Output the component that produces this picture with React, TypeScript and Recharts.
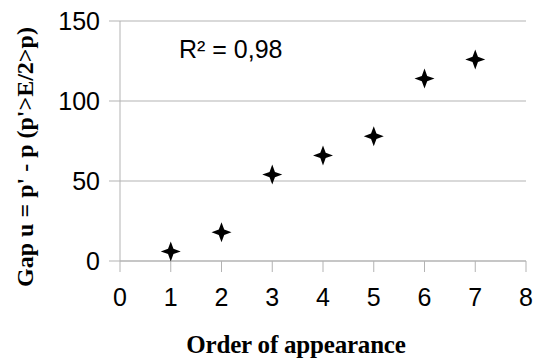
import { ScatterChart, Scatter, XAxis, YAxis, CartesianGrid } from "recharts";

const orders = [1, 2, 3, 4, 5, 6, 7];
const gaps = [6, 18, 54, 66, 78, 114, 126];
const xTicks = [0, 1, 2, 3, 4, 5, 6, 7, 8];
const yTicks = [0, 50, 100, 150];
const rSquared = "R² = 0,98";
const xTitle = "Order of appearance";
const yTitle = "Gap u = p' - p (p'>E/2>p)";

const data = orders.map((o, i) => ({ order: o, gap: gaps[i] }));

const sans = "'Liberation Sans', Arial, sans-serif";
const serif = "'Liberation Serif', 'Times New Roman', serif";
const grey = "#b3b3b3";

// four-pointed star marker
function Star(props: any) {
  const { cx, cy } = props;
  const r = 10;
  const k = 2.7;
  const d = `M${cx},${cy - r} L${cx + k},${cy - k} L${cx + r},${cy} L${cx + k},${cy + k} L${cx},${cy + r} L${cx - k},${cy + k} L${cx - r},${cy} L${cx - k},${cy - k} Z`;
  return <path d={d} fill="#000" />;
}

export default function App() {
  return (
    <div style={{ position: "absolute", left: 0, top: 0, width: 540, height: 360, background: "#fff" }}>
      <ScatterChart width={540} height={360} margin={{ top: 21, right: 14, bottom: 0, left: 0 }}>
        <CartesianGrid vertical={false} stroke={grey} />
        <XAxis
          type="number"
          dataKey="order"
          domain={[0, 8]}
          ticks={xTicks}
          height={99}
          stroke={grey}
          tickSize={11}
          tickMargin={16}
          tick={{ fill: "#000", fontSize: 25, fontFamily: sans }}
        />
        <YAxis
          type="number"
          dataKey="gap"
          domain={[0, 150]}
          ticks={yTicks}
          width={120}
          stroke={grey}
          tickSize={11}
          tickMargin={9}
          tick={{ fill: "#000", fontSize: 25, fontFamily: sans }}
        />
        <Scatter data={data} shape={Star} isAnimationActive={false} />
        <text x={179} y={58} fontSize={25} fontFamily={sans} fill="#000">
          {rSquared}
        </text>
        <text x={296} y={353} textAnchor="middle" fontSize={25} fontWeight="bold" fontFamily={serif} fill="#000" letterSpacing={-0.2}>
          {xTitle}
        </text>
        <text
          x={33}
          y={157}
          textAnchor="middle"
          transform="rotate(-90 33 157)"
          fontSize={24}
          fontWeight="bold"
          fontFamily={serif}
          fill="#000"
        >
          {yTitle}
        </text>
      </ScatterChart>
    </div>
  );
}
